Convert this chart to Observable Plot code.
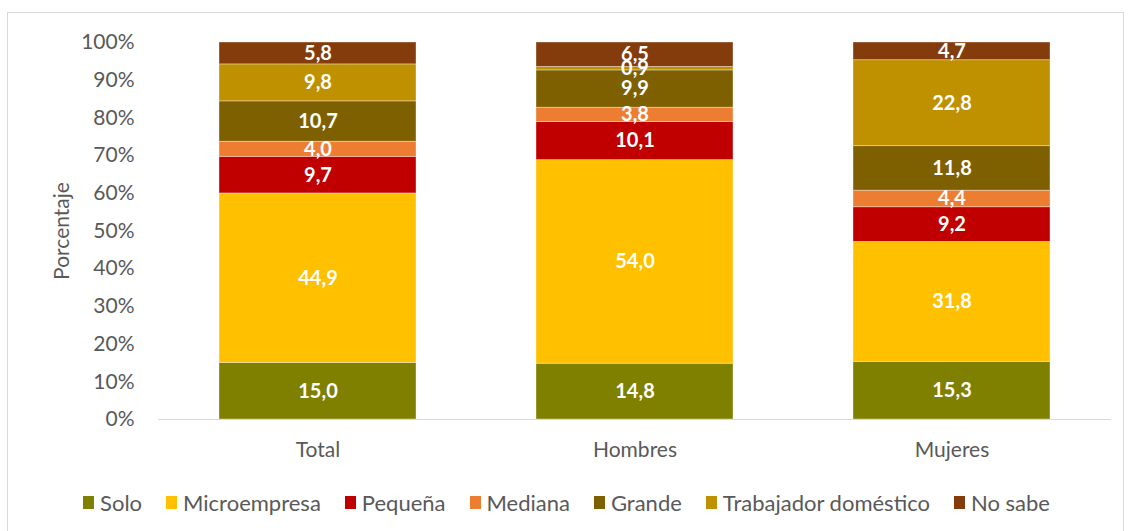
<!DOCTYPE html>
<html>
<head>
<meta charset="utf-8">
<script src="https://cdn.jsdelivr.net/npm/d3@7"></script>
<script src="https://cdn.jsdelivr.net/npm/@observablehq/plot@0.6"></script>
<style>
  body { margin: 0; background: #fff; font-family: Lato, "Open Sans", sans-serif; }
  #wrap { position: relative; width: 1133px; height: 531px; }
  #border { position: absolute; left: 7px; top: 12px; width: 1117px; height: 520px; border: 1px solid #d9d9d9; box-sizing: border-box; }
  #chart { position: absolute; left: 0; top: 0; }
  #legend { position: absolute; left: 0; top: 489px; width: 1133px; display: flex; justify-content: center; font-size: 22px; color: #595959; }
  .item { display: flex; align-items: center; margin: 0 12px; }
  .sw { width: 11px; height: 13px; margin-right: 6px; }
</style>
</head>
<body>
<div id="wrap">
  <div id="border"></div>
  <div id="chart"></div>
  <div id="legend"></div>
</div>
<script>
const groups = ["Total", "Hombres", "Mujeres"];
const categories = ["Solo", "Microempresa", "Pequeña", "Mediana", "Grande", "Trabajador doméstico", "No sabe"];
const colors = ["#7F7F00", "#FFC000", "#C00000", "#ED7D31", "#7F6000", "#BF9000", "#843C0C"];
const totalValues   = [15.0, 44.9, 9.7, 4.0, 10.7, 9.8, 5.8];
const hombresValues = [14.8, 54.0, 10.1, 3.8, 9.9, 0.9, 6.5];
const mujeresValues = [15.3, 31.8, 9.2, 4.4, 11.8, 22.8, 4.7];
const yTicks = [0, 10, 20, 30, 40, 50, 60, 70, 80, 90, 100];

const series = [totalValues, hombresValues, mujeresValues];
const data = [];
categories.forEach((cat, ci) => {
  groups.forEach((g, gi) => {
    data.push({ group: g, cat, value: series[gi][ci] });
  });
});

const fmt = v => v.toFixed(1).replace(".", ",");

const chart = Plot.plot({
  width: 1133,
  height: 470,
  marginTop: 42,
  marginBottom: 51,
  marginLeft: 158,
  marginRight: 22,
  style: { fontFamily: "Lato, 'Open Sans', sans-serif", fontSize: "21px", color: "#595959", background: "transparent" },
  x: { domain: groups, paddingInner: 0.38, paddingOuter: 0.19 },
  y: { domain: [0, 1] },
  color: { domain: categories, range: colors },
  marks: [
    Plot.barY(data, Plot.stackY({ x: "group", y: "value", fill: "cat", offset: "normalize", stroke: "white", strokeOpacity: 0.45, strokeWidth: 0.8 })),
    Plot.text(data, Plot.stackY({ x: "group", y: "value", z: "cat", offset: "normalize", text: d => fmt(d.value), fill: "white", fontWeight: "bold", fontSize: 20 })),
    Plot.ruleY([0], { stroke: "#d9d9d9", strokeWidth: 1.2 }),
    Plot.axisY(yTicks.map(t => t / 100), { tickSize: 0, tickPadding: 24, tickFormat: d => Math.round(d * 100) + "%", label: "Porcentaje", labelAnchor: "center", labelArrow: "none", labelOffset: 104, fontSize: 21 }),
    Plot.axisX({ tickSize: 0, tickPadding: 23, label: null, fontSize: 21 })
  ]
});
document.getElementById("chart").appendChild(chart);

const legend = document.getElementById("legend");
categories.forEach((c, i) => {
  const it = document.createElement("div");
  it.className = "item";
  it.innerHTML = `<span class="sw" style="background:${colors[i]}"></span><span>${c}</span>`;
  legend.appendChild(it);
});
</script>
</body>
</html>
